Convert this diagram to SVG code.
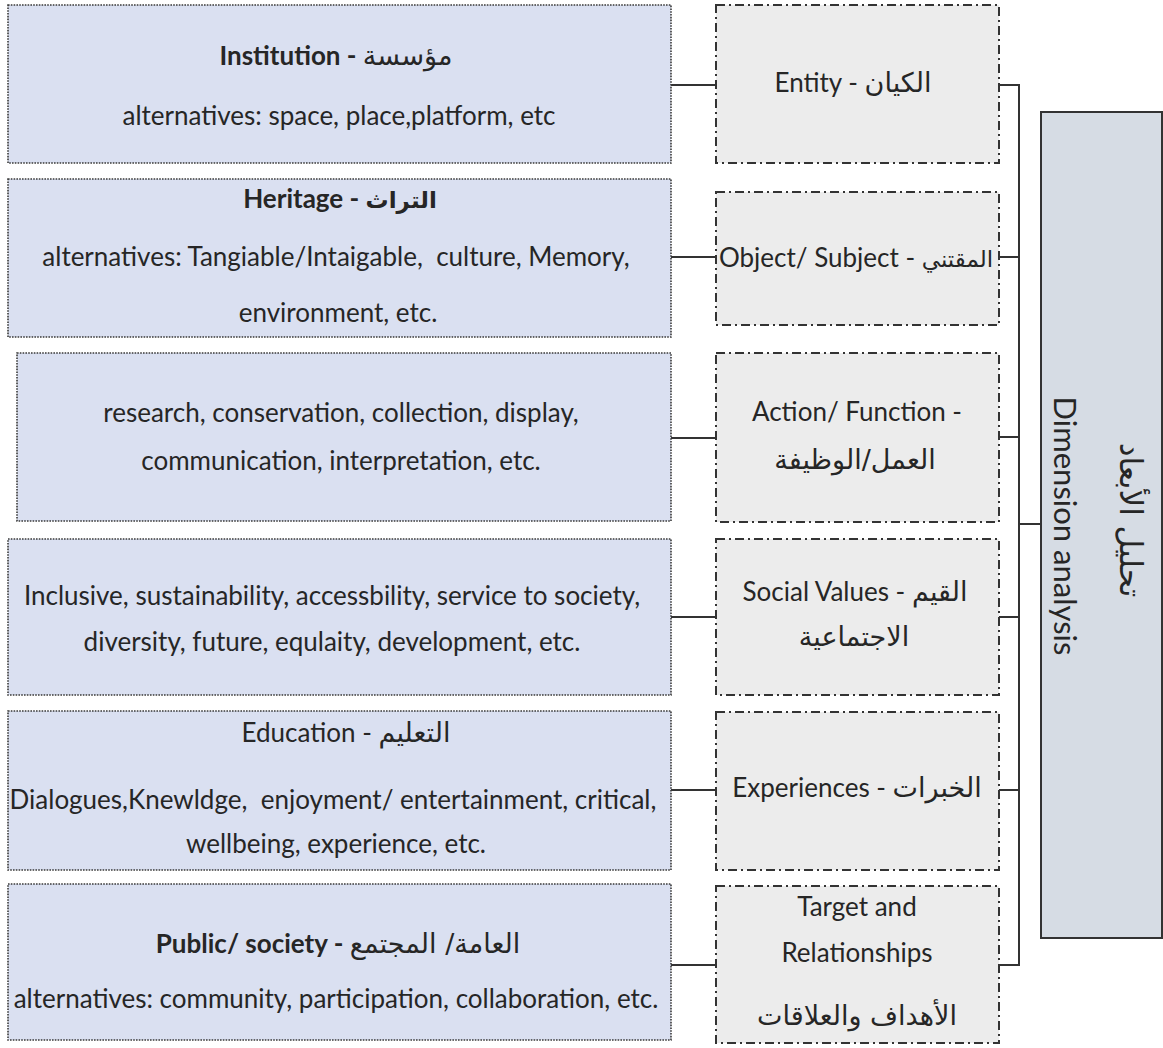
<svg xmlns="http://www.w3.org/2000/svg" width="1163" height="1048" viewBox="0 0 1163 1048">
<style>
  text { font-family: Lato, "DejaVu Sans", sans-serif; font-size: 26px; fill: #262626; text-anchor: middle; }
  .b { font-weight: bold; }
  .ar { font-family: "DejaVu Sans", sans-serif; font-size: 27px; }
  .ars { font-family: "DejaVu Sans", sans-serif; font-size: 23px; }
  .left { fill: #dae0f1; stroke: #3a3a3a; stroke-width: 1.6; stroke-dasharray: 1.6 1.2; }
  .mid { fill: #ececec; stroke: #333; stroke-width: 2; stroke-dasharray: 9 4 2 4; }
  .root { fill: #d6dce4; stroke: #333; stroke-width: 2; }
  .conn { fill: none; stroke: #333; stroke-width: 2; }
  .big { font-size: 31px; }
  .bigar { font-family: "DejaVu Sans", sans-serif; font-size: 31px; }
</style>
<rect width="1163" height="1048" fill="#fff"/>
<g id="connectors">
  <path class="conn" d="M671 85H716M671 257H716M671 438H716M671 617H716M671 790H716M671 965H716"/>
  <path class="conn" d="M999 85H1019V965H999M999 257H1019M999 437H1019M999 617H1019M999 790H1019M1019 524H1041"/>
</g>
<g id="inst">
  <rect class="left" x="8" y="5" width="663" height="158"/>
  <text x="336" y="65"><tspan class="b">Institution - </tspan><tspan class="ar">مؤسسة</tspan></text>
  <text x="339" y="125">alternatives: space, place,platform, etc</text>
</g>
<g id="heritage">
  <rect class="left" x="8" y="179" width="663" height="158"/>
  <text x="340" y="208" class="b">Heritage - <tspan class="ars">التراث</tspan></text>
  <text x="336" y="266">alternatives: Tangiable/Intaigable,&#160; culture, Memory,</text>
  <text x="338" y="322">environment, etc.</text>
</g>
<g id="actions">
  <rect class="left" x="17" y="353" width="654" height="168"/>
  <text x="341" y="422">research, conservation, collection, display,</text>
  <text x="341" y="470">communication, interpretation, etc.</text>
</g>
<g id="values">
  <rect class="left" x="8" y="539" width="663" height="156"/>
  <text x="332" y="605">Inclusive, sustainability, accessbility, service to society,</text>
  <text x="332" y="651">diversity, future, equlaity, development, etc.</text>
</g>
<g id="education">
  <rect class="left" x="8" y="711" width="663" height="159"/>
  <text x="346" y="742">Education - <tspan class="ar">التعليم</tspan></text>
  <text x="333" y="809">Dialogues,Knewldge,&#160; enjoyment/ entertainment, critical,</text>
  <text x="336" y="853">wellbeing, experience, etc.</text>
</g>
<g id="public">
  <rect class="left" x="8" y="884" width="663" height="156"/>
  <text x="338" y="953"><tspan class="b">Public/ society - </tspan><tspan class="ar">العامة/ المجتمع</tspan></text>
  <text x="336" y="1008">alternatives: community, participation, collaboration, etc.</text>
</g>
<g id="entity">
  <rect class="mid" x="716" y="5" width="283" height="158"/>
  <text x="853" y="92">Entity - <tspan class="ar">الكيان</tspan></text>
</g>
<g id="object">
  <rect class="mid" x="716" y="192" width="283" height="133"/>
  <text x="856" y="267">Object/ Subject - <tspan class="ars">المقتني</tspan></text>
</g>
<g id="action">
  <rect class="mid" x="716" y="353" width="283" height="169"/>
  <text x="857" y="421">Action/ Function -</text>
  <text x="855" y="469" class="ar">العمل/الوظيفة</text>
</g>
<g id="social">
  <rect class="mid" x="716" y="539" width="283" height="156"/>
  <text x="855" y="601">Social Values - <tspan class="ar">القيم</tspan></text>
  <text x="854" y="646" class="ar">الاجتماعية</text>
</g>
<g id="experiences">
  <rect class="mid" x="716" y="712" width="283" height="158"/>
  <text x="857" y="797">Experiences - <tspan class="ar">الخبرات</tspan></text>
</g>
<g id="target">
  <rect class="mid" x="716" y="886" width="283" height="157"/>
  <text x="857" y="916">Target and</text>
  <text x="857" y="962">Relationships</text>
  <text x="857" y="1025" class="ar">الأهداف والعلاقات</text>
</g>
<g id="dimension">
  <rect class="root" x="1041" y="112" width="121" height="826"/>
  <text class="big" transform="translate(1054 526) rotate(90)">Dimension analysis</text>
  <text class="bigar" transform="translate(1120 520) rotate(90)">تحليل الأبعاد</text>
</g>
</svg>
